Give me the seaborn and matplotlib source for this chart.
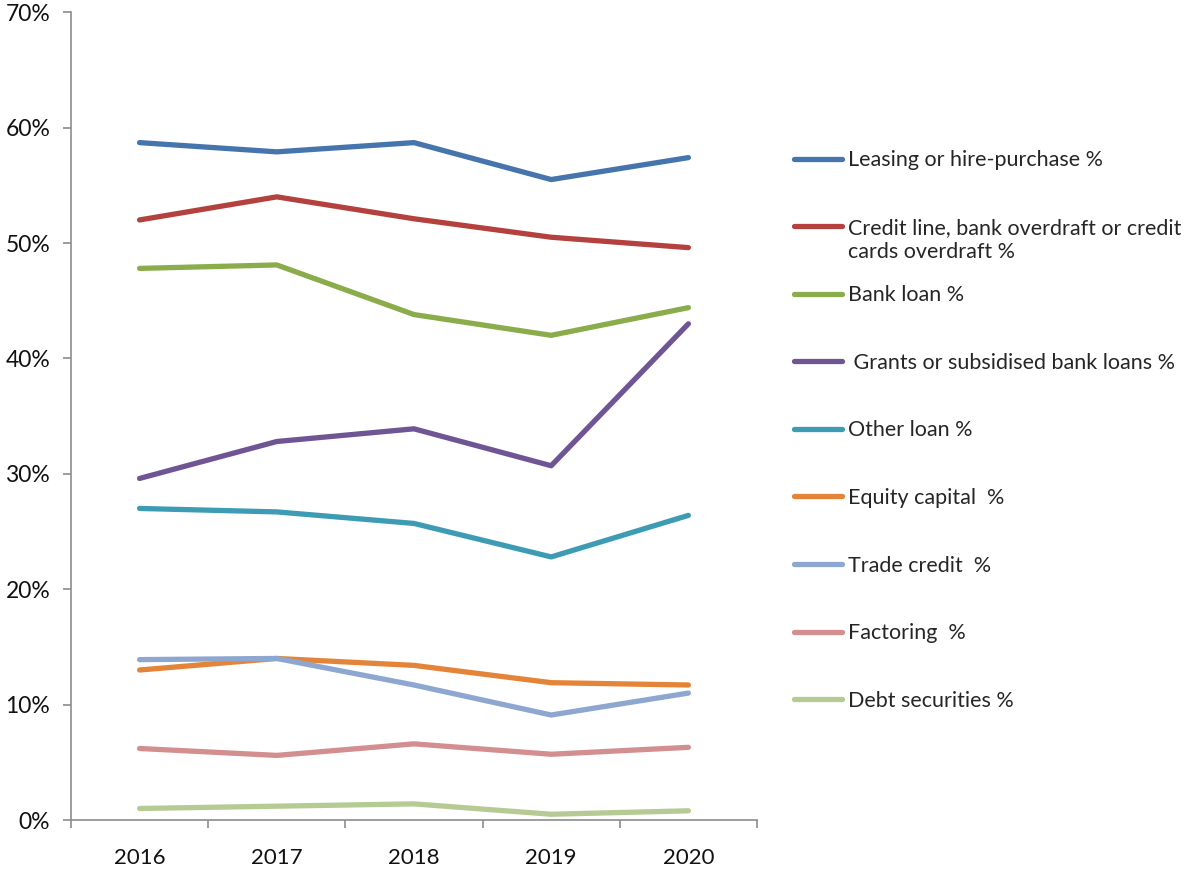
import matplotlib
matplotlib.use("Agg")
import matplotlib.pyplot as plt
import seaborn as sns
import pandas as pd
from matplotlib.ticker import FuncFormatter, FixedLocator

years = ["2016", "2017", "2018", "2019", "2020"]
series_names = [
    "Leasing or hire-purchase %",
    "Credit line, bank overdraft or credit",
    "Bank loan %",
    " Grants or subsidised bank loans %",
    "Other loan %",
    "Equity capital  %",
    "Trade credit  %",
    "Factoring  %",
    "Debt securities %",
]
credit_second_line = "cards overdraft %"
leasing = [58.7, 57.9, 58.7, 55.5, 57.4]
credit_line = [52.0, 54.0, 52.1, 50.5, 49.6]
bank_loan = [47.8, 48.1, 43.8, 42.0, 44.4]
grants = [29.6, 32.8, 33.9, 30.7, 43.0]
other_loan = [27.0, 26.7, 25.7, 22.8, 26.4]
equity = [13.0, 14.0, 13.4, 11.9, 11.7]
trade_credit = [13.9, 14.0, 11.7, 9.1, 11.0]
factoring = [6.2, 5.6, 6.6, 5.7, 6.3]
debt = [1.0, 1.2, 1.4, 0.5, 0.8]

colors = ["#4674AD", "#B4413E", "#8BAC4A", "#6F5594", "#3D9CB4",
          "#E38438", "#8EA7D0", "#D38F8F", "#B5CB93"]

all_values = [leasing, credit_line, bank_loan, grants, other_loan,
              equity, trade_credit, factoring, debt]
rows = []
for name, vals in zip(series_names, all_values):
    for y, v in zip(years, vals):
        rows.append({"Year": y, "Value": v, "Series": name})
df = pd.DataFrame(rows)

sns.set_theme(style="white")
plt.rcParams['font.family'] = ['Lato', 'DejaVu Sans']

fig = plt.figure(figsize=(12.01, 8.72), dpi=100)
ax = fig.add_axes([0.0591, 0.0596, 0.5712, 0.9264])

sns.lineplot(data=df, x="Year", y="Value", hue="Series", hue_order=series_names,
             palette=colors, linewidth=3.8, sort=False, ax=ax,
             solid_capstyle="round")

ax.set_xlim(-0.5, len(years) - 0.5)
ax.set_ylim(0, 70)
ax.set_yticks(range(0, 71, 10))
ax.yaxis.set_major_formatter(FuncFormatter(lambda v, p: f"{int(v)}%"))
ax.set_xlabel("")
ax.set_ylabel("")

ax.xaxis.set_minor_locator(FixedLocator([i - 0.5 for i in range(len(years) + 1)]))
ax.tick_params(axis="x", which="major", length=0, pad=20, labelsize=16, labelcolor="#111111")
ax.tick_params(axis="x", which="minor", length=6, width=1.2, color="#8c8c8c", direction="out", bottom=True)
ax.tick_params(axis="y", which="major", length=6, width=1.2, color="#8c8c8c", direction="out", left=True,
               labelsize=16.5, labelcolor="#111111", pad=9)

for s in ["top", "right"]:
    ax.spines[s].set_visible(False)
for s in ["left", "bottom"]:
    ax.spines[s].set_color("#8c8c8c")
    ax.spines[s].set_linewidth(1.2)

handles, labels = ax.get_legend_handles_labels()
leg = ax.legend(handles, labels, loc="upper left", bbox_to_anchor=(1.042, 0.840),
                frameon=False, fontsize=15.5, handlelength=2.23, handletextpad=0.28,
                labelspacing=2.21, borderaxespad=0)

credit_text = leg.get_texts()[1]
ann = ax.annotate(credit_second_line, xy=(0, 0), xycoords=credit_text,
                  xytext=(0, -3), textcoords="offset points", ha="left", va="top",
                  fontsize=15.5, color=credit_text.get_color(), annotation_clip=False)
ann.set_zorder(20)

fig.canvas.draw()
fig.savefig("out.png", dpi=100)
